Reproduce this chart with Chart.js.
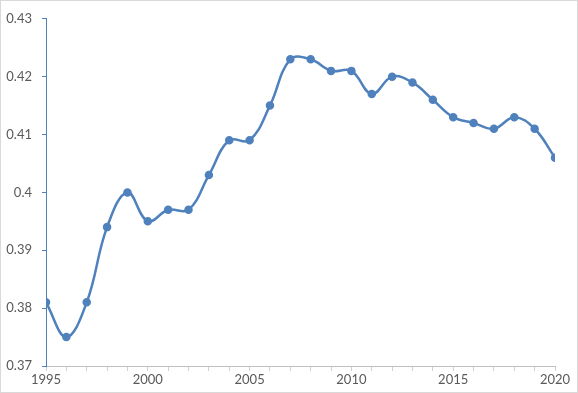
<!DOCTYPE html>
<html>
<head>
<meta charset="utf-8">
<script src="https://cdn.jsdelivr.net/npm/chart.js@4/dist/chart.umd.min.js"></script>
<style>
    body { margin: 0; background: #fff; }
    #wrap { width: 578px; height: 393px; box-sizing: border-box; border: 1px solid #d9d9d9; }
</style>
</head>
<body>
<div id="wrap"><canvas id="giniChart" width="576" height="391"></canvas></div>
<script>
const years = [1995, 1996, 1997, 1998, 1999, 2000, 2001, 2002, 2003, 2004, 2005, 2006, 2007,
    2008, 2009, 2010, 2011, 2012, 2013, 2014, 2015, 2016, 2017, 2018, 2019, 2020];
const values = [0.381, 0.375, 0.381, 0.394, 0.400, 0.395, 0.397, 0.397, 0.403, 0.409, 0.409, 0.415, 0.423,
    0.423, 0.421, 0.421, 0.417, 0.420, 0.419, 0.416, 0.413, 0.412, 0.411, 0.413, 0.411, 0.406];
const yMin = 0.37, yMax = 0.43, yStep = 0.01;
const xLabelStep = 5;

const lineColour = '#4f81bd';
const textColour = '#595959';

const points = years.map((y, i) => ({ x: y, y: values[i] }));

new Chart(document.getElementById('giniChart'), {
    type: 'line',
    data: {
        datasets: [{
            data: points,
            borderColor: lineColour,
            backgroundColor: lineColour,
            borderWidth: 2.5,
            pointRadius: 3,
            pointHoverRadius: 3,
            tension: 0.4,
            fill: false
        }]
    },
    options: {
        responsive: false,
        animation: false,
        layout: { padding: { top: 15, right: 22, left: 0, bottom: 0 } },
        plugins: { legend: { display: false }, tooltip: { enabled: false } },
        scales: {
            x: {
                type: 'linear',
                min: years[0],
                max: years[years.length - 1],
                afterFit: (scale) => { scale.height = 26; },
                grid: { drawOnChartArea: false, tickLength: 5, color: '#d0d0d0' },
                border: { color: '#bfbfbf' },
                ticks: {
                    stepSize: 1,
                    autoSkip: false,
                    maxRotation: 0,
                    padding: 1,
                    color: textColour,
                    font: { family: 'Lato', size: 13 },
                    callback: (v) => (v % xLabelStep === 0 ? String(v) : '')
                }
            },
            y: {
                min: yMin,
                max: yMax,
                afterFit: (scale) => { scale.width = 45; },
                grid: { drawOnChartArea: false, tickLength: 4, color: lineColour },
                border: { color: lineColour },
                ticks: {
                    stepSize: yStep,
                    padding: 10,
                    color: textColour,
                    font: { family: 'Lato', size: 13 },
                    callback: (v) => String(+v.toFixed(2))
                }
            }
        }
    }
});
</script>
</body>
</html>
